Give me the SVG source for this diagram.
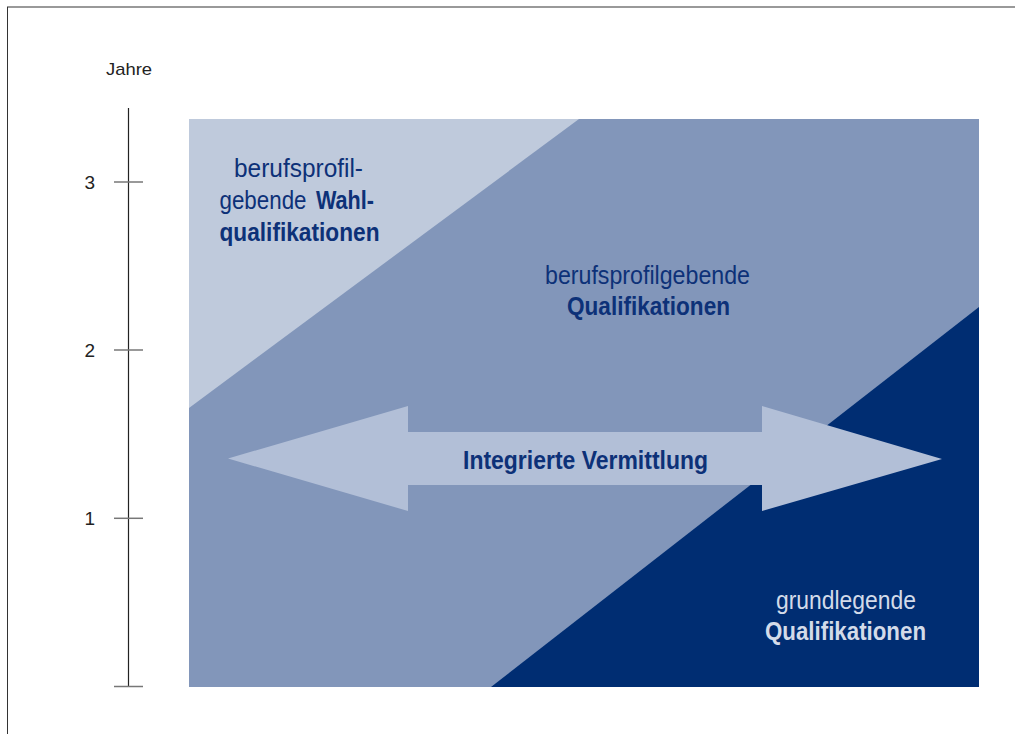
<svg xmlns="http://www.w3.org/2000/svg" width="1015" height="734" viewBox="0 0 1015 734">
<style>
.t{font-family:"Liberation Sans",Arial,sans-serif;}
.lbl{font-size:26px;fill:#0D3178;}
.b{font-weight:bold;}
.lt{fill:#D3DBE9;}
.ax{font-size:17px;fill:#222;}
.num{font-size:19px;fill:#222;}
.tick{stroke:#777;stroke-width:1.5;}
</style>
<rect width="1015" height="734" fill="#fff"/>
<g id="frame">
<line x1="7" y1="7" x2="1015" y2="7" stroke="#777" stroke-width="1.5"/>
<line x1="7.5" y1="7" x2="7.5" y2="734" stroke="#333" stroke-width="1"/>
</g>
<g id="axis">
<line x1="128.5" y1="108" x2="128.5" y2="686.5" stroke="#222" stroke-width="1.2"/>
<line class="tick" x1="114" y1="182" x2="143" y2="182"/>
<line class="tick" x1="114" y1="350" x2="143" y2="350"/>
<line class="tick" x1="114" y1="518.3" x2="143" y2="518.3"/>
<line class="tick" x1="114" y1="686.5" x2="143" y2="686.5"/>
<text class="t ax" x="106" y="75" textLength="46" lengthAdjust="spacingAndGlyphs">Jahre</text>
<text class="t num" x="84.5" y="189">3</text>
<text class="t num" x="84.5" y="357">2</text>
<text class="t num" x="84.5" y="524.5">1</text>
</g>
<g id="region-medium">
<rect x="189" y="119" width="790" height="568" fill="#8296BA"/>
</g>
<g id="region-light">
<polygon points="189,119 579,119 189,408" fill="#BFCADC"/>
</g>
<g id="region-dark">
<polygon points="979,307 979,687 491,687" fill="#002D72"/>
</g>
<g id="arrow">
<polygon points="228,458.5 408,406 408,432 762,432 762,406 942,459 762,511 762,485 408,485 408,511" fill="#B2BFD7"/>
<text class="t lbl b" x="463" y="468.5" textLength="245" lengthAdjust="spacingAndGlyphs">Integrierte Vermittlung</text>
</g>
<g id="label-wahl">
<text class="t lbl" x="234" y="176.5" textLength="129" lengthAdjust="spacingAndGlyphs">berufsprofil-</text>
<text class="t lbl" x="219.5" y="208.5" textLength="87" lengthAdjust="spacingAndGlyphs">gebende</text>
<text class="t lbl b" x="316" y="208.5" textLength="58" lengthAdjust="spacingAndGlyphs">Wahl-</text>
<text class="t lbl b" x="219.5" y="240.5" textLength="160" lengthAdjust="spacingAndGlyphs">qualifikationen</text>
</g>
<g id="label-berufsprofil">
<text class="t lbl" x="545" y="283.5" textLength="205" lengthAdjust="spacingAndGlyphs">berufsprofilgebende</text>
<text class="t lbl b" x="567" y="314.5" textLength="163" lengthAdjust="spacingAndGlyphs">Qualifikationen</text>
</g>
<g id="label-grund">
<text class="t lbl lt" x="776" y="608.5" textLength="140" lengthAdjust="spacingAndGlyphs">grundlegende</text>
<text class="t lbl lt b" x="765" y="639.5" textLength="161" lengthAdjust="spacingAndGlyphs">Qualifikationen</text>
</g>
</svg>
